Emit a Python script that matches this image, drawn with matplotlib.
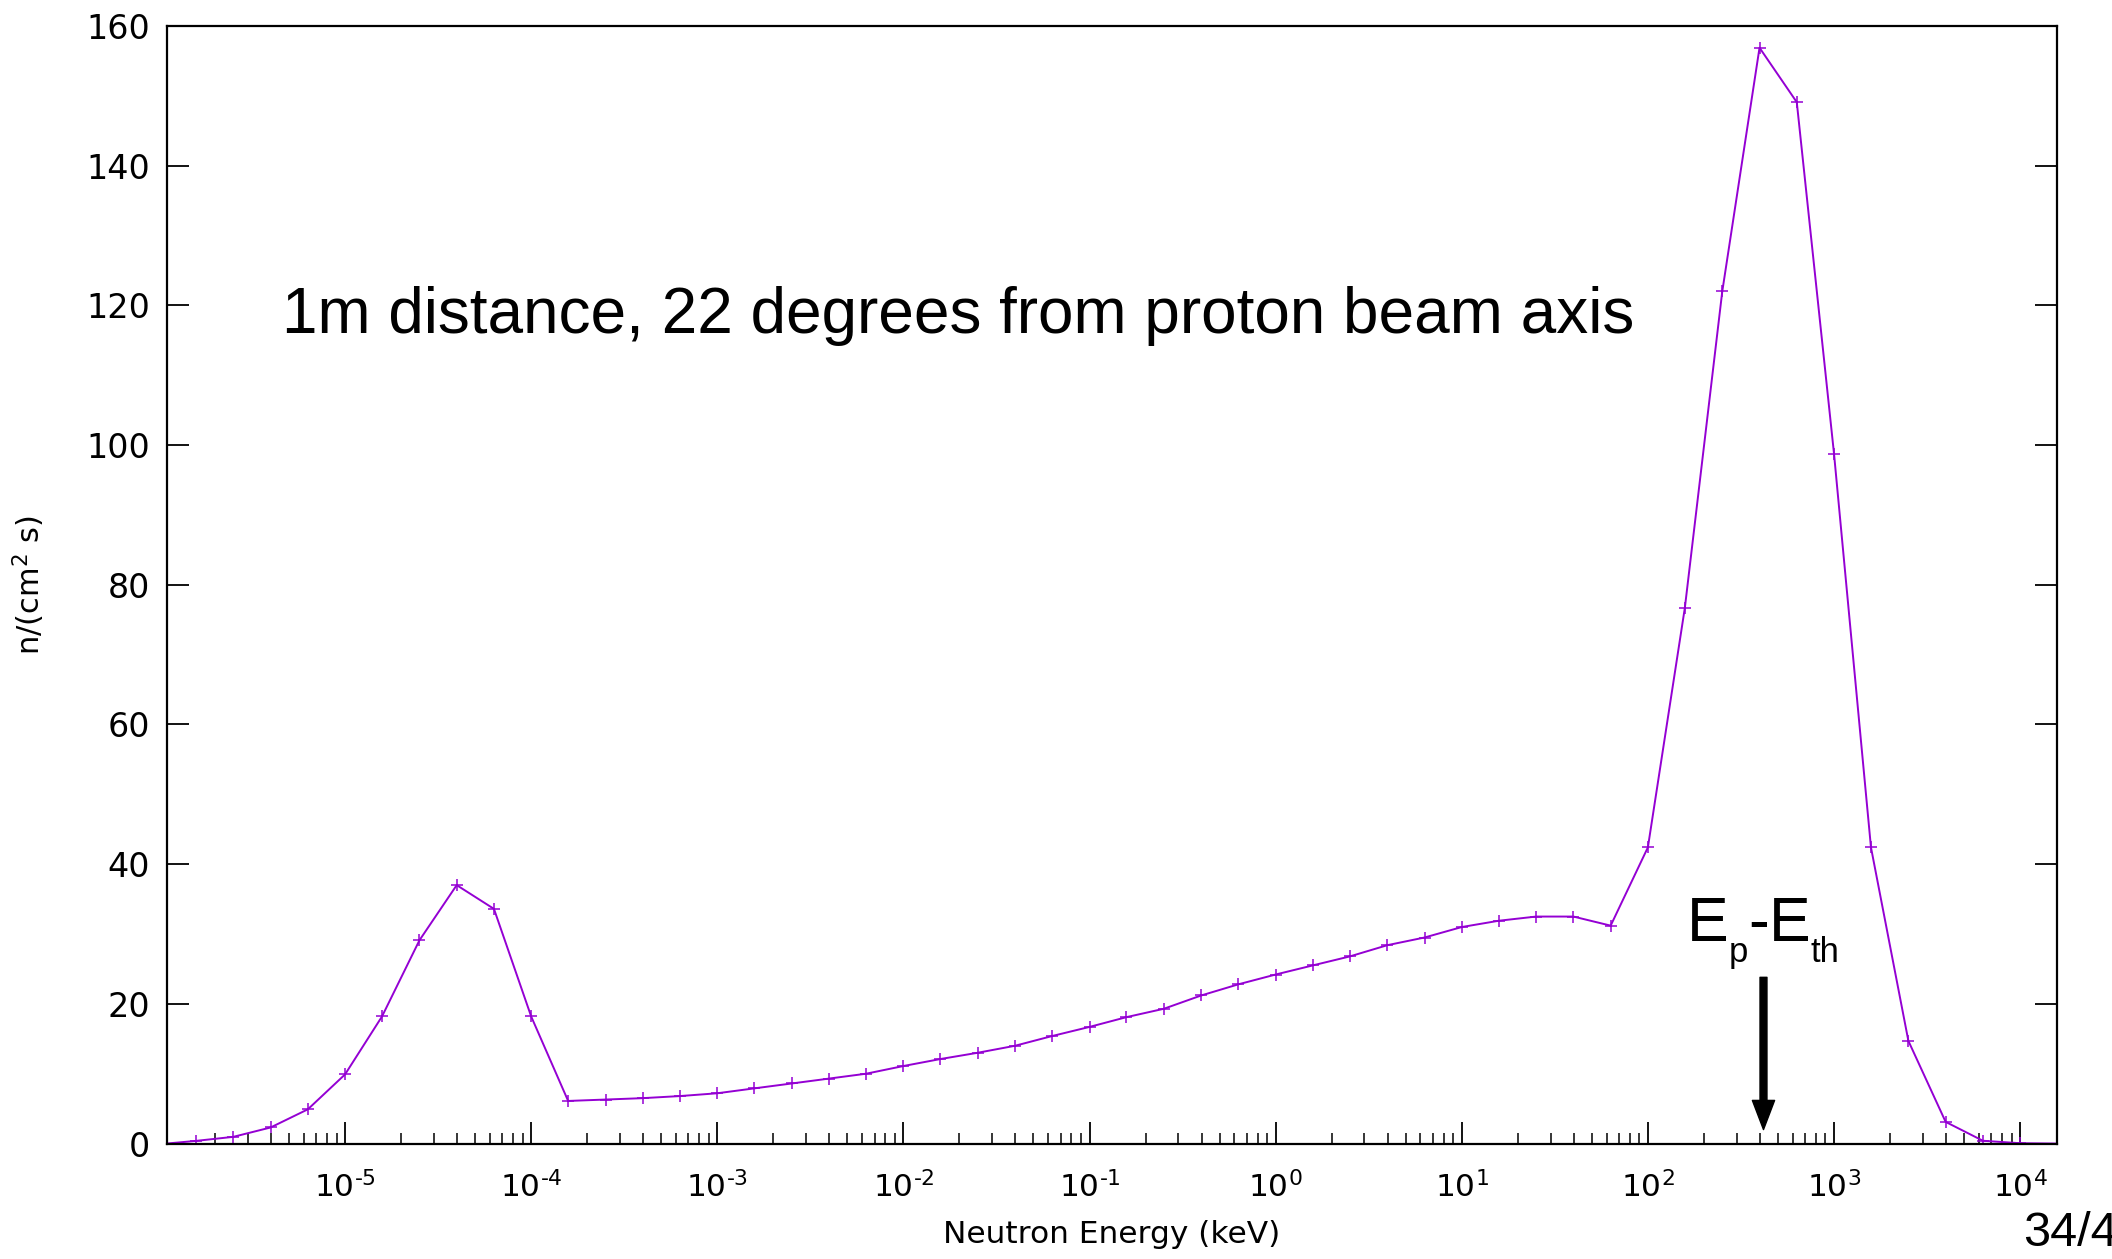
import matplotlib.pyplot as plt
from matplotlib.ticker import FixedLocator, FixedFormatter, LogLocator, NullFormatter, MultipleLocator

# neutron energy bins (keV), 5 per decade
energy_kev = [1.1e-6, 1.58e-6, 2.51e-6, 3.98e-6, 6.31e-6,
              1.0e-5, 1.58e-5, 2.51e-5, 3.98e-5, 6.31e-5,
              1.0e-4, 1.58e-4, 2.51e-4, 3.98e-4, 6.31e-4,
              1.0e-3, 1.58e-3, 2.51e-3, 3.98e-3, 6.31e-3,
              1.0e-2, 1.58e-2, 2.51e-2, 3.98e-2, 6.31e-2,
              1.0e-1, 1.58e-1, 2.51e-1, 3.98e-1, 6.31e-1,
              1.0, 1.58, 2.51, 3.98, 6.31,
              10.0, 15.8, 25.1, 39.8, 63.1,
              100.0, 158.0, 251.0, 398.0, 631.0,
              1000.0, 1580.0, 2510.0, 3980.0, 6310.0,
              10000.0, 15800.0]

# flux n/(cm^2 s)
flux = [0.0, 0.38, 0.96, 2.3, 4.9,
        9.9, 18.2, 29.1, 37.0, 33.6,
        18.2, 6.1, 6.3, 6.5, 6.8,
        7.2, 7.9, 8.6, 9.3, 10.0,
        11.1, 12.1, 13.0, 14.0, 15.4,
        16.7, 18.1, 19.3, 21.2, 22.8,
        24.2, 25.5, 26.8, 28.4, 29.5,
        31.0, 31.9, 32.5, 32.5, 31.2,
        42.4, 76.7, 122.0, 156.9, 149.1,
        98.8, 42.4, 14.7, 3.1, 0.4,
        0.05, 0.0]

x_ticks = [1e-5, 1e-4, 1e-3, 1e-2, 1e-1, 1e0, 1e1, 1e2, 1e3, 1e4]
x_tick_exp = ["-5", "-4", "-3", "-2", "-1", "0", "1", "2", "3", "4"]

ep_minus_eth = 418.0  # keV, arrow position

fig = plt.figure(figsize=(21.12, 12.59), dpi=100)
ax = fig.add_axes([0.0789, 0.0917, 0.8951, 0.8876])

ax.plot(energy_kev, flux, color="#9400D3", linewidth=1.4,
        marker="+", markersize=8, markeredgewidth=1.1)

ax.set_xscale("log")
ax.set_xlim(energy_kev[0], energy_kev[-1])
ax.set_ylim(0, 160)
ax.yaxis.set_major_locator(MultipleLocator(20))
ax.xaxis.set_major_locator(FixedLocator(x_ticks))
ax.xaxis.set_major_formatter(FixedFormatter(
    [r"$\mathdefault{10^{\text{-}%s}}$" % e[1:] if e.startswith("-")
     else r"$\mathdefault{10^{%s}}$" % e for e in x_tick_exp]))
ax.xaxis.set_minor_locator(LogLocator(base=10, subs=range(2, 10), numticks=40))
ax.xaxis.set_minor_formatter(NullFormatter())

for s in ax.spines.values():
    s.set_linewidth(1.6)

ax.tick_params(axis="y", which="both", direction="in", left=True, right=True,
               length=16, width=1.3, labelsize=24, pad=12)
ax.tick_params(axis="x", which="major", direction="in", top=False,
               length=16, width=1.3, labelsize=22.5, pad=20)
ax.tick_params(axis="x", which="minor", direction="in", top=False,
               length=8, width=1.1)

ax.set_xlabel("Neutron Energy (keV)", fontsize=22.5, labelpad=12)
ax.set_ylabel(r"n/(cm$^2$ s)", fontsize=22, labelpad=28)

ax.text(4.6e-6, 118.5, "1m distance, 22 degrees from proton beam axis",
        family="Liberation Sans", fontsize=46, va="center", ha="left")

# E_p - E_th label built from pieces (offsets in points from baseline anchor)
label_pieces = [("E", -54.9, 0, 45), ("p", -24.9, -15, 25), ("-", -11.0, 0, 45),
                ("E", 4.0, 0, 45), ("th", 34.0, -15, 25)]
for txt, dx, dy, size in label_pieces:
    ax.annotate(txt, xy=(ep_minus_eth, 29.0), xytext=(dx, dy),
                textcoords="offset points", family="Liberation Sans",
                fontsize=size, ha="left", va="baseline")

ax.annotate("", xy=(ep_minus_eth, 2.0), xytext=(ep_minus_eth, 23.8),
            arrowprops=dict(width=5, headwidth=16, headlength=21,
                            color="black", shrink=0))

fig.text(2023 / 2112, 1 - 1234 / 1259, "34/4", family="Liberation Sans",
         fontsize=35, ha="left", va="center")

plt.savefig("out.png", dpi=100)
